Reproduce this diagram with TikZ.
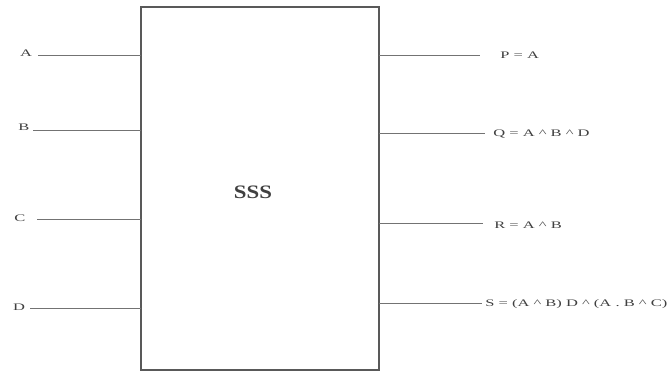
\documentclass[tikz,border=0pt]{standalone}
\usepackage{fontspec}
\setmainfont{Liberation Serif}
\definecolor{wiregray}{gray}{0.45}
\definecolor{boxgray}{gray}{0.35}
\definecolor{labelgray}{gray}{0.25}
\begin{document}
\begin{tikzpicture}[x=1pt,y=-1pt,
  wire/.style={draw=wiregray, line width=0.9pt},
  pin/.style={font=\fontsize{10}{12}\selectfont, text=labelgray, inner sep=0pt, xscale=1.65},
  block/.style={draw=boxgray, line width=1.5pt, minimum width=238pt, minimum height=363pt, inner sep=0pt, outer sep=0pt}]
\useasboundingbox (0,0) rectangle (671,373);

% the subsystem block
\node[block] (sss) at (260,188.5) {};
\node[font=\bfseries\fontsize{19}{22}\selectfont, text=labelgray, xscale=1.2] (title) at (253,192) {SSS};

% inputs
\coordinate (ia) at (38,55);
\coordinate (ib) at (33,130);
\coordinate (ic) at (37,219);
\coordinate (id) at (30,308);
\node[pin, anchor=base] (la) at (26,56.3) {A};
\node[pin, anchor=base] (lb) at (24,130.3) {B};
\node[pin, anchor=base] (lc) at (20,221.3) {C};
\node[pin, anchor=base] (ld) at (19,310.3) {D};
\draw[wire] (ia) -- (ia -| sss.west);
\draw[wire] (ib) -- (ib -| sss.west);
\draw[wire] (ic) -- (ic -| sss.west);
\draw[wire] (id) -- (id -| sss.west);

% outputs
\coordinate (op) at (480,55);
\coordinate (oq) at (485,133);
\coordinate (or) at (483,223);
\coordinate (os) at (482,303);
\draw[wire] (op -| sss.east) -- (op);
\draw[wire] (oq -| sss.east) -- (oq);
\draw[wire] (or -| sss.east) -- (or);
\draw[wire] (os -| sss.east) -- (os);
\node[pin, anchor=base west] (lp) at (500,58.3) {P = A};
\node[pin, anchor=base west] (lq) at (493,136.3) {Q = A \textasciicircum{} B \textasciicircum{} D};
\node[pin, anchor=base west] (lr) at (494,228.3) {R = A \textasciicircum{} B};
\node[pin, anchor=base west] (ls) at (485,306.3) {S = (A \textasciicircum{} B) D \textasciicircum{} (A . B \textasciicircum{} C)};
\end{tikzpicture}
\end{document}
